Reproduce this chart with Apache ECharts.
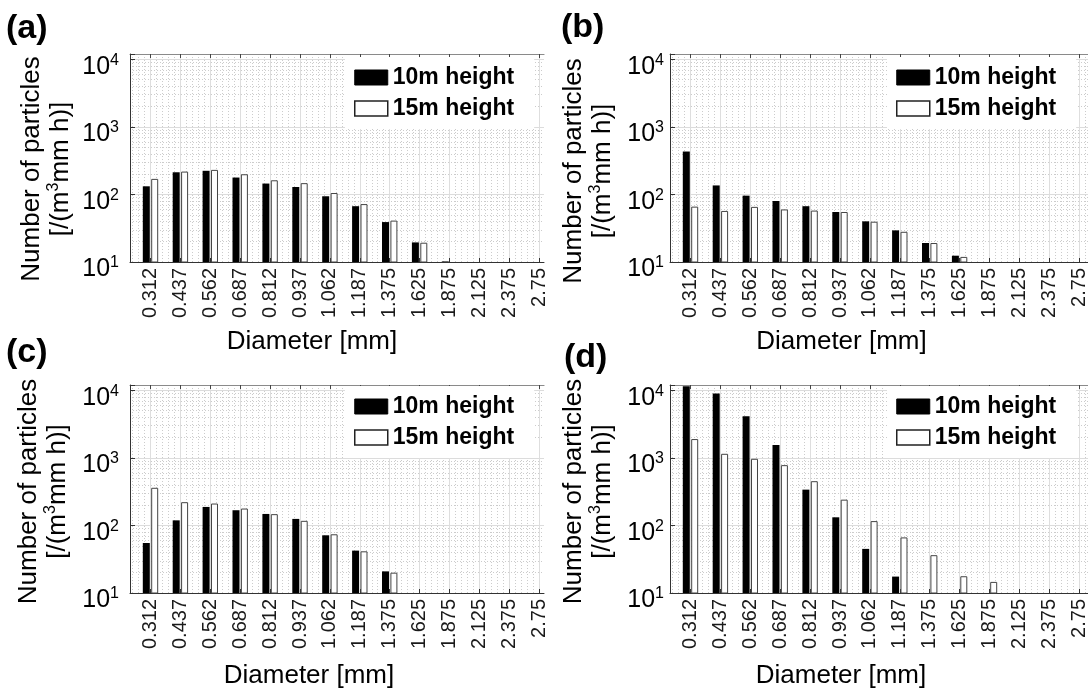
<!DOCTYPE html>
<html>
<head>
<meta charset="utf-8">
<script src="https://cdn.jsdelivr.net/npm/echarts@6/dist/echarts.min.js"></script>
<style>
  html, body { margin: 0; padding: 0; background: #fff; }
  #chart { width: 1088px; height: 694px; }
</style>
</head>
<body>
<div id="chart"></div>
<script>
// Particle size classes (mm)
const diameters = ['0.312', '0.437', '0.562', '0.687', '0.812', '0.937', '1.062',
                   '1.187', '1.375', '1.625', '1.875', '2.125', '2.375', '2.75'];
const seriesNames = ['10m height', '15m height'];
const panelLetters = ['(a)', '(b)', '(c)', '(d)'];
const yTickValues = [10, 100, 1000, 10000];

// Number of particles [/(m^3 mm h)] per size class; null = nothing above 10
const a10 = [132, 213, 224, 178, 145, 129, 94, 67, 39, 19.5, 10.2, null, null, null];
const a15 = [170, 218, 231, 199, 162, 147, 105, 72, 41, 19.3, null, null, null, null];
const b10 = [432, 136, 96, 80, 67, 55, 40, 29.4, 19.1, 12.4, null, null, null, null];
const b15 = [66, 57, 65.5, 60, 57.7, 55, 39.5, 28, 19.1, 11.9, null, null, null, null];
const c10 = [55, 119, 188, 168, 148, 125, 71.5, 42.4, 20.9, null, null, null, null, null];
const c15 = [361, 221, 211, 178, 147, 117, 74, 41.4, 20.0, null, null, null, null, null];
const d10 = [11500, 8950, 4120, 1550, 339, 132, 45, 17.5, null, null, null, null, null, null];
const d15 = [1900, 1150, 970, 781, 452, 241, 116, 66.5, 36.3, 17.7, 14.6, null, null, null];

const FONT = '"Liberation Sans", Arial, Helvetica, sans-serif';
const BAND = 29.9;          // px per size class
const X_MIN = 0.3144;       // axis starts a little left of the first class
const Y_MIN = 10, Y_MAX = 12000;

const panels = [
  { s10: a10, s15: a15, grid: { left: 130, top: 54, width: 414, height: 208 },
    legend: { left: 345, top: 57 }, labelMargin: 11, yNameGap: 55, yNameShift: 22,
    xNameGap: 67, xNameShift: 50, letter: { x: 6, y: 30 } },
  { s10: b10, s15: b15, grid: { left: 670, top: 54, width: 418, height: 208 },
    legend: { left: 887, top: 57 }, labelMargin: 6, yNameGap: 53, yNameShift: 26,
    xNameGap: 67, xNameShift: 75, letter: { x: 561, y: 29 } },
  { s10: c10, s15: c15, grid: { left: 130, top: 385, width: 414, height: 208 },
    legend: { left: 345, top: 386 }, labelMargin: 11, yNameGap: 58, yNameShift: 5,
    xNameGap: 70, xNameShift: 56, letter: { x: 6, y: 354 } },
  { s10: d10, s15: d15, grid: { left: 670, top: 385, width: 418, height: 208 },
    legend: { left: 887, top: 386 }, labelMargin: 6, yNameGap: 53, yNameShift: 5,
    xNameGap: 70, xNameShift: 76, letter: { x: 564, y: 359 } }
];

const xTickValues = diameters.map((_, k) => k + 1);

// Dotted minor grid: 2..9 within each decade, fifths between size classes
const yMinorValues = [];
[10, 100, 1000].forEach(dec => { for (let m = 2; m <= 9; m++) yMinorValues.push(dec * m); });

function isPow10(v) {
  const l = Math.log10(v);
  return Math.abs(l - Math.round(l)) < 1e-6;
}

const grids = [], xAxes = [], yAxes = [], series = [], legends = [], graphics = [];

panels.forEach((p, i) => {
  const xMax = X_MIN + p.grid.width / BAND;
  grids.push(Object.assign({ outerBoundsMode: 'none', containLabel: false }, p.grid));

  // bottom axis with the size-class labels
  xAxes.push({
    gridIndex: i, type: 'value', position: 'bottom', min: X_MIN, max: xMax,
    name: 'Diameter [mm]', nameLocation: 'middle', nameGap: p.xNameGap,
    nameMoveOverlap: false,
    nameTextStyle: { fontFamily: FONT, fontSize: 26, color: '#000', padding: [0, p.xNameShift, 0, 0] },
    axisLine: { show: true, onZero: false, lineStyle: { color: '#333', width: 1 } },
    axisTick: { show: true, inside: true, length: 4, customValues: xTickValues, lineStyle: { color: '#333' } },
    axisLabel: {
      show: true, rotate: 90, margin: 6, fontFamily: FONT, fontSize: 20, color: '#1a1a1a',
      customValues: xTickValues,
      formatter: v => diameters[Math.round(v) - 1] || ''
    },
    splitLine: { show: true, lineStyle: { color: '#dedede', width: 1 } }
  });
  // top frame edge with inward ticks
  xAxes.push({
    gridIndex: i, type: 'value', position: 'top', min: X_MIN, max: xMax,
    axisLine: { show: true, onZero: false, lineStyle: { color: '#8a8a8a', width: 1.2 } },
    axisTick: { show: true, inside: true, length: 4, customValues: xTickValues, lineStyle: { color: '#444' } },
    axisLabel: { show: false },
    splitLine: { show: false }
  });

  yAxes.push({
    gridIndex: i, type: 'log', logBase: 10, min: Y_MIN, max: Y_MAX,
    name: 'Number of particles\n[/(m{sup|3}mm h)]',
    nameLocation: 'middle', nameRotate: 90, nameGap: p.yNameGap, nameMoveOverlap: false,
    nameTextStyle: {
      fontFamily: FONT, fontSize: 26, lineHeight: 29, color: '#000',
      padding: [0, p.yNameShift, 0, 0],
      rich: { sup: { fontFamily: FONT, fontSize: 16, lineHeight: 16, verticalAlign: 'top', color: '#000' } }
    },
    axisLine: { show: true, onZero: false, lineStyle: { color: '#333', width: 1 } },
    axisTick: { show: true, inside: true, length: 5, lineStyle: { color: '#333' } },
    axisLabel: {
      margin: p.labelMargin, padding: [15, 0, 0, 0],
      formatter: v => isPow10(v) ? '{b|10}{s|' + Math.round(Math.log10(v)) + '}' : '',
      rich: {
        b: { fontFamily: FONT, fontSize: 25, lineHeight: 29, color: '#000' },
        s: { fontFamily: FONT, fontSize: 16, lineHeight: 16, verticalAlign: 'top', color: '#000' }
      }
    },
    splitLine: { show: true, lineStyle: { color: '#dcdcdc', width: 1 } }
  });

  const xMinorValues = [];
  for (let k = 0; k <= 14; k++) {
    for (let j = 1; j <= 4; j++) {
      const v = k + j * 0.2;
      if (v > X_MIN && v < xMax) xMinorValues.push(v);
    }
  }

  // minor grid carrier, kept under the bars and the legend
  series.push({
    type: 'line', xAxisIndex: 2 * i, yAxisIndex: i, data: [], silent: true, z: 0,
    markLine: {
      z: 0, silent: true, symbol: ['none', 'none'], label: { show: false }, animation: false,
      lineStyle: { type: [1, 2], color: '#cccccc', width: 1 },
      emphasis: { disabled: true },
      data: yMinorValues.map(v => ({ yAxis: v })).concat(xMinorValues.map(v => ({ xAxis: v })))
    }
  });

  series.push({
    type: 'bar', name: seriesNames[0], xAxisIndex: 2 * i, yAxisIndex: i, z: 3,
    data: p.s10.map((v, k) => [k + 1, v]),
    barWidth: 7, barGap: '20%',
    itemStyle: { color: '#000', borderColor: '#000', borderWidth: 0 }
  });
  series.push({
    type: 'bar', name: seriesNames[1], xAxisIndex: 2 * i, yAxisIndex: i, z: 3,
    data: p.s15.map((v, k) => [k + 1, v]),
    barWidth: 7, barGap: '20%',
    itemStyle: { color: '#fff', borderColor: '#444', borderWidth: 1 }
  });

  legends.push({
    left: p.legend.left, top: p.legend.top, orient: 'vertical', z: 6,
    backgroundColor: '#fff', padding: [9, 20, 9, 9],
    itemWidth: 33, itemHeight: 15, itemGap: 8, selectedMode: false,
    textStyle: { fontFamily: FONT, fontSize: 23, fontWeight: 'bold', color: '#000', lineHeight: 22 },
    data: [
      { name: seriesNames[0], icon: 'rect', itemStyle: { color: '#000', borderColor: '#000', borderWidth: 1 } },
      { name: seriesNames[1], icon: 'rect', itemStyle: { color: '#fff', borderColor: '#222', borderWidth: 1.5 } }
    ]
  });

  graphics.push({
    type: 'text', left: p.letter.x, top: p.letter.y - 18,
    style: { text: panelLetters[i], font: 'bold 34px ' + FONT, fill: '#000' }
  });
});

const chart = echarts.init(document.getElementById('chart'), null, { renderer: 'canvas' });
chart.setOption({
  backgroundColor: '#fff',
  animation: false,
  grid: grids,
  xAxis: xAxes,
  yAxis: yAxes,
  legend: legends,
  series: series,
  graphic: graphics
});
</script>
</body>
</html>
